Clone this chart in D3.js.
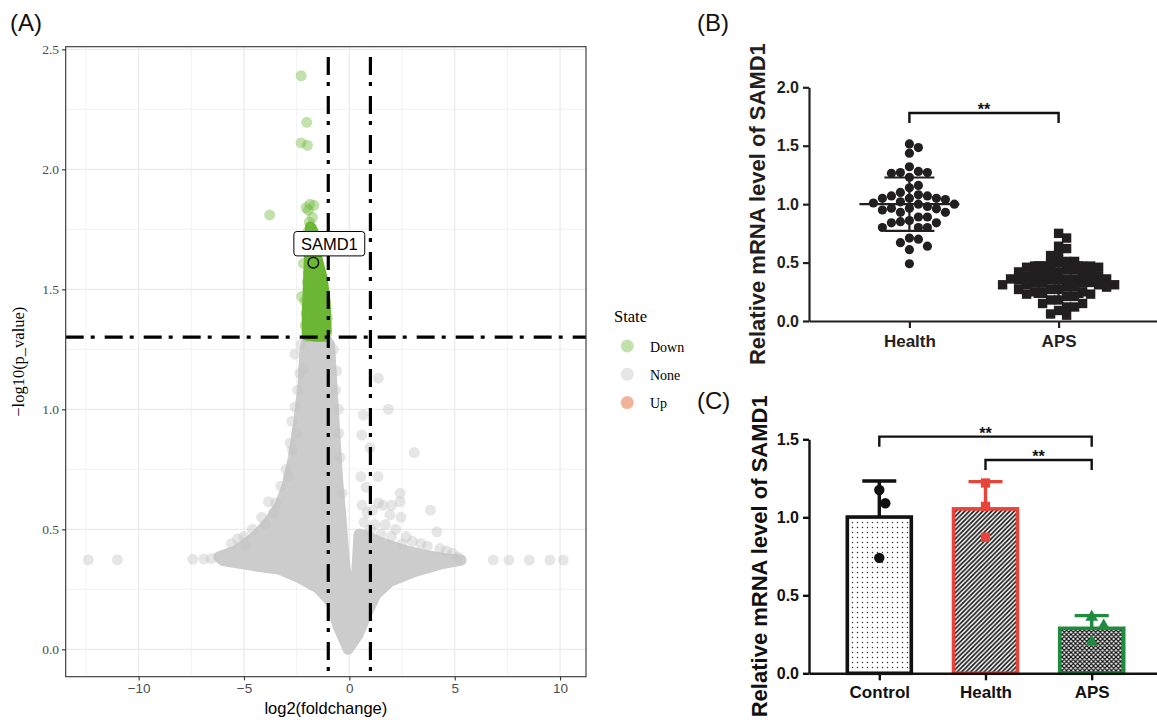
<!DOCTYPE html>
<html>
<head>
<meta charset="utf-8">
<script src="https://cdn.jsdelivr.net/npm/d3@7"></script>
<style>
  body { margin: 0; background: #fff; }
  svg { display: block; }
</style>
</head>
<body>
<svg id="fig" width="1157" height="720"></svg>
<script>
// ---- (A) volcano data ----
var xTicksA = [-10, -5, 0, 5, 10];
var yTicksA = [0, 0.5, 1, 1.5, 2, 2.5];
var xMinorA = [-12.5, -7.5, -2.5, 2.5, 7.5];
var yMinorA = [0.25, 0.75, 1.25, 1.75, 2.25];
var fcCutoffs = [-1, 1];
var pCutoff = 1.301;
var stateNames = ["Down", "None", "Up"];
var stateColors = ["#6DB83A", "#C4C4C4", "#E34A10"];

// outline of the dense mass of "None" genes (point centres)
var noneCloud = [
  [-2.01,1.285],[-1.5,1.295],[-1.1,1.29],[-0.94,1.27],
  [-0.86,1.15],[-0.76,1.0],[-0.66,0.85],[-0.55,0.70],[-0.40,0.55],[-0.25,0.38],
  [-0.05,0.22],[0.35,0.32],[0.46,0.48],
  [0.9,0.47],[1.46,0.445],[2.55,0.414],[3.5,0.393],[4.64,0.376],[5.3,0.372],
  [4.3,0.355],[3.03,0.322],[1.93,0.283],[1.27,0.23],[0.89,0.16],[0.41,0.06],[-0.06,0.0],
  [-0.2,0.03],[-0.54,0.097],[-0.87,0.197],[-1.49,0.256],[-2.34,0.297],[-3.29,0.333],
  [-4.24,0.345],[-5.2,0.358],[-6.0,0.37],
  [-6.2,0.385],[-5.4,0.41],[-4.6,0.46],[-3.9,0.52],[-3.3,0.6],[-2.95,0.68],
  [-2.65,0.8],[-2.4,0.95],[-2.2,1.1],[-2.1,1.25]
];
// "None" genes standing apart from the mass
var nonePoints = [
  [-12.39,0.373],[-11.01,0.373],[-7.43,0.375],[-6.9,0.376],[-6.55,0.378],
  [-5.6,0.44],[-5.3,0.46],[-4.9,0.43],[-4.6,0.50],[-4.16,0.55],[-4.0,0.52],
  [-3.84,0.615],[-3.5,0.61],[-3.25,0.68],[-3.0,0.75],[-2.81,0.86],[-2.73,0.95],
  [-2.58,1.01],[-2.45,1.08],[-2.35,1.15],[-2.58,1.23],[-2.18,1.17],[-2.3,1.27],
  [-2.9,0.72],[-2.7,0.83],[-3.6,0.57],[-5.0,0.47],[-2.5,0.9],
  [-0.75,1.25],[-0.6,1.16],[-0.52,1.0],[-0.44,0.80],[-0.35,0.65],[-0.65,1.08],[-0.5,0.9],
  [1.38,1.13],[1.85,1.0],[0.66,0.976],[0.59,0.893],[0.98,0.84],[3.08,0.82],
  [1.36,0.72],[0.8,0.675],[0.55,0.72],[2.41,0.65],[3.85,0.58],[2.41,0.615],
  [1.38,0.61],[1.6,0.60],[2.0,0.60],[1.93,0.56],[2.45,0.55],[1.1,0.58],
  [0.85,0.57],[0.7,0.53],[1.2,0.52],[1.7,0.52],[2.2,0.50],[2.7,0.47],
  [3.0,0.45],[3.4,0.44],[3.7,0.43],[4.15,0.49],[4.3,0.42],[4.6,0.41],
  [4.9,0.40],[5.15,0.385],[0.6,0.6],[1.0,0.5],[1.5,0.48],[2.0,0.47],[2.5,0.44],
  [6.83,0.372],[7.57,0.372],[8.54,0.372],[9.52,0.372],[10.15,0.372]
];
// outline of the dense column of "Down" genes (point centres)
var downCloud = [
  [-1.85,1.76],[-1.72,1.74],[-1.62,1.66],[-1.45,1.6],[-1.3,1.55],[-1.15,1.45],
  [-1.1,1.33],[-1.2,1.305],[-1.7,1.305],[-2.0,1.31],[-2.0,1.40],[-1.95,1.50],[-1.9,1.62]
];
var downPoints = [
  [-2.29,2.39],[-2.02,2.196],[-2.29,2.11],[-1.99,2.10],[-3.78,1.81],
  [-2.05,1.84],[-1.87,1.855],[-1.68,1.85],[-1.95,1.83],[-1.75,1.80],[-1.9,1.78],
  [-1.78,1.755],[-1.95,1.74],[-1.72,1.72],[-1.85,1.70],[-1.65,1.68],[-2.0,1.67],
  [-1.8,1.66],[-1.55,1.64],[-1.9,1.63],[-2.18,1.608],[-1.7,1.60],[-1.45,1.58],
  [-1.95,1.57],[-1.6,1.56],[-1.8,1.55],[-1.35,1.54],[-2.0,1.53],[-1.5,1.52],
  [-1.7,1.51],[-1.3,1.50],[-1.9,1.49],[-1.6,1.48],[-2.26,1.47],[-1.4,1.47],
  [-2.1,1.45],[-1.8,1.45],[-1.55,1.44],[-1.25,1.44],[-1.95,1.43],[-1.7,1.42],
  [-1.4,1.41],[-2.05,1.40],[-1.85,1.40],[-1.15,1.40],[-1.6,1.39],[-1.3,1.385],
  [-1.05,1.38],[-1.95,1.37],[-1.75,1.36],[-1.5,1.36],[-1.2,1.355],[-2.1,1.35],
  [-1.65,1.34],[-1.35,1.335],[-1.9,1.33],[-1.1,1.33],[-1.55,1.32],[-1.07,1.317],
  [-1.8,1.31],[-1.3,1.31],[-2.0,1.305],[-1.45,1.305]
];
var samd1 = { name: "SAMD1", fc: -1.71, p: 1.611 };

// ---- (B) column scatter data ----
var groupsB = ["Health", "APS"];
var yTicksB = [0, 0.5, 1, 1.5, 2];
var healthB = [1.515,1.484,1.436,1.32,1.28,1.27,1.27,1.23,1.264,1.16,1.14,1.10,1.07,1.08,1.07,
  1.05,1.05,1.05,1.04,1.01,1.0,1.02,1.0,0.98,0.96,0.965,0.965,0.95,0.93,0.93,0.89,0.89,
  0.85,0.84,0.84,0.86,0.80,0.80,0.80,0.71,0.70,0.67,0.61,0.64,0.49];
var apsB = [0.75,0.71,0.64,0.62,0.57,0.56,0.51,0.50,0.51,0.49,0.47,0.47,0.47,0.47,0.46,0.46,
  0.44,0.44,0.42,0.42,0.42,0.40,0.40,0.40,0.40,0.38,0.38,0.36,0.36,0.36,0.36,0.35,0.35,0.35,
  0.33,0.33,0.33,0.33,0.31,0.31,0.31,0.31,0.29,0.29,0.29,0.27,0.27,0.27,0.25,0.25,0.25,
  0.23,0.23,0.21,0.21,0.18,0.18,0.15,0.15,0.12,0.12,0.09,0.06,0.05];
var sigB = [["Health", "APS", 1.78, "**"]];

// ---- (C) bar data ----
var groupsC = ["Control", "Health", "APS"];
var yTicksC = [0, 0.5, 1, 1.5];
var valuesC = [[1.175, 1.09, 0.74], [0.872, 1.07, 1.22], [0.305, 0.2, 0.36]];
var colorsC = ["#111111", "#E8443A", "#1E8B3F"];
var sigC = [["Control", "APS", 1.517, "**"], ["Health", "APS", 1.367, "**"]];

var SANS = "'Liberation Sans', Arial, sans-serif";
var SERIF = "'Liberation Serif', 'Times New Roman', serif";
var INK = "#231f20";

var svg = d3.select("#fig");
var defs = svg.append("defs");

// places points of one column side by side so they do not overlap
function swarm(vals, yScale, cx, step, minDist, square) {
  var placed = [];
  vals.slice().sort(d3.descending).forEach(function(v) {
    var py = yScale(v), dx = 0;
    for (var k = 0; k < 80; k++) {
      dx = (k % 2 ? 1 : -1) * Math.ceil(k / 2) * step;
      var ok = placed.every(function(p) {
        var ddx = Math.abs(p.x - (cx + dx)), ddy = Math.abs(p.y - py);
        return square ? (ddx >= minDist || ddy >= minDist) : Math.hypot(ddx, ddy) >= minDist;
      });
      if (ok) break;
    }
    placed.push({ v: v, x: cx + dx, y: py });
  });
  return placed;
}

// ================= (A) =================
var xA = d3.scaleLinear().domain([-13.46, 11.23]).range([65.7, 586]);
var yA = d3.scaleLinear().domain([-0.114, 2.511]).range([676.7, 46.7]);
var x0 = xA.range()[0], x1 = xA.range()[1], y0 = yA.range()[0], y1 = yA.range()[1];

defs.append("clipPath").attr("id", "clipA").append("rect")
  .attr("x", x0).attr("y", y1).attr("width", x1 - x0).attr("height", y0 - y1);

var gA = svg.append("g");
var plotA = gA.append("g").attr("clip-path", "url(#clipA)");

// grid
plotA.selectAll(".minor-x").data(xMinorA).enter().append("line")
  .attr("x1", function(d) { return xA(d); }).attr("x2", function(d) { return xA(d); })
  .attr("y1", y1).attr("y2", y0).attr("stroke", "#EDEDED").attr("stroke-width", 0.7);
plotA.selectAll(".minor-y").data(yMinorA).enter().append("line")
  .attr("y1", function(d) { return yA(d); }).attr("y2", function(d) { return yA(d); })
  .attr("x1", x0).attr("x2", x1).attr("stroke", "#EDEDED").attr("stroke-width", 0.7);
plotA.selectAll(".major-x").data(xTicksA).enter().append("line")
  .attr("x1", function(d) { return xA(d); }).attr("x2", function(d) { return xA(d); })
  .attr("y1", y1).attr("y2", y0).attr("stroke", "#EBEBEB").attr("stroke-width", 1.3);
plotA.selectAll(".major-y").data(yTicksA).enter().append("line")
  .attr("y1", function(d) { return yA(d); }).attr("y2", function(d) { return yA(d); })
  .attr("x1", x0).attr("x2", x1).attr("stroke", "#EBEBEB").attr("stroke-width", 1.3);

var cloudLine = d3.line().x(function(d) { return xA(d[0]); }).y(function(d) { return yA(d[1]); })
  .curve(d3.curveLinearClosed);

// dense mass of None genes
plotA.append("path").datum(noneCloud).attr("d", cloudLine)
  .attr("fill", "#CCCCCC").attr("stroke", "#CCCCCC")
  .attr("stroke-width", 11).attr("stroke-linejoin", "round");

plotA.selectAll(".none-pt").data(nonePoints).enter().append("circle")
  .attr("cx", function(d) { return xA(d[0]); }).attr("cy", function(d) { return yA(d[1]); })
  .attr("r", 5.5).attr("fill", stateColors[1]).attr("fill-opacity", 0.42);

// dense column of Down genes
plotA.append("path").datum(downCloud).attr("d", cloudLine)
  .attr("fill", "#6AB72E").attr("stroke", "#6AB72E")
  .attr("stroke-width", 11).attr("stroke-linejoin", "round");

plotA.selectAll(".down-pt").data(downPoints).enter().append("circle")
  .attr("cx", function(d) { return xA(d[0]); }).attr("cy", function(d) { return yA(d[1]); })
  .attr("r", 5.5).attr("fill", stateColors[0]).attr("fill-opacity", 0.42);

// cut-off lines
plotA.selectAll(".vcut").data(fcCutoffs).enter().append("line")
  .attr("x1", function(d) { return xA(d); }).attr("x2", function(d) { return xA(d); })
  .attr("y1", y1).attr("y2", y0)
  .attr("stroke", "#000").attr("stroke-width", 3.2)
  .attr("stroke-dasharray", "18,7,4,10").attr("stroke-dashoffset", 28.7);
plotA.append("line")
  .attr("x1", x0).attr("x2", x1).attr("y1", yA(pCutoff)).attr("y2", yA(pCutoff))
  .attr("stroke", "#000").attr("stroke-width", 3.2)
  .attr("stroke-dasharray", "18,7,4,10").attr("stroke-dashoffset", 0);

// highlighted gene
var sx = xA(samd1.fc), sy = yA(samd1.p);
plotA.append("circle").attr("cx", sx).attr("cy", sy).attr("r", 5.3)
  .attr("fill", "none").attr("stroke", "#000").attr("stroke-width", 1.3);
var lab = gA.append("g").attr("transform", "translate(" + (sx + 16) + "," + (sy - 19) + ")");
var labText = lab.append("text").attr("text-anchor", "middle").attr("dy", "0.36em")
  .attr("font-family", SANS).attr("font-size", 16.5).attr("fill", "#000").text(samd1.name);
var bb = labText.node().getBBox();
lab.insert("rect", "text")
  .attr("x", bb.x - 7).attr("y", -12.2).attr("width", bb.width + 14).attr("height", 24.4)
  .attr("rx", 3).attr("fill", "#fff").attr("stroke", "#000").attr("stroke-width", 1);

// frame
gA.append("rect").attr("x", x0).attr("y", y1).attr("width", x1 - x0).attr("height", y0 - y1)
  .attr("fill", "none").attr("stroke", "#333").attr("stroke-width", 1.1);

// axes
var axXA = gA.append("g").attr("transform", "translate(0," + y0 + ")")
  .call(d3.axisBottom(xA).tickValues(xTicksA).tickSize(3.7).tickPadding(3).tickFormat(d3.format("d")));
var axYA = gA.append("g").attr("transform", "translate(" + x0 + ",0)")
  .call(d3.axisLeft(yA).tickValues(yTicksA).tickSize(3.7).tickPadding(3).tickFormat(d3.format(".1f")));
[axXA, axYA].forEach(function(ax) {
  ax.select(".domain").remove();
  ax.selectAll(".tick line").attr("stroke", "#333").attr("stroke-width", 1.1);
});
axXA.selectAll("text").attr("font-family", SANS).attr("font-size", 13.5).attr("fill", "#4D4D4D");
axYA.selectAll("text").attr("font-family", SERIF).attr("font-size", 13.5).attr("fill", "#4D4D4D");

gA.append("text").attr("x", (x0 + x1) / 2).attr("y", 714).attr("text-anchor", "middle")
  .attr("font-family", SANS).attr("font-size", 16.5).text("log2(foldchange)");
gA.append("text").attr("transform", "translate(24," + ((y0 + y1) / 2) + ") rotate(-90)")
  .attr("text-anchor", "middle").attr("font-family", SERIF).attr("font-size", 16.5)
  .text("\u2212log10(p_value)");

// legend
var leg = gA.append("g").attr("transform", "translate(614,322)");
leg.append("text").attr("font-family", SERIF).attr("font-size", 16.5).text("State");
var items = leg.selectAll(".item").data(stateNames).enter().append("g")
  .attr("transform", function(d, i) { return "translate(0," + (24 + i * 28.3) + ")"; });
items.append("circle").attr("cx", 13.3).attr("r", 6.5)
  .attr("fill", function(d, i) { return stateColors[i]; }).attr("fill-opacity", 0.42);
items.append("text").attr("x", 36).attr("y", 5.5).attr("font-family", SERIF).attr("font-size", 14)
  .text(function(d) { return d; });

// ================= (B) =================
var xB = d3.scalePoint().domain(groupsB).range([809, 1159]).padding(0.673);
var yB = d3.scaleLinear().domain([0, 2]).range([321, 87.3]);
var gB = svg.append("g");

var axYB = gB.append("g").attr("transform", "translate(809,0)")
  .call(d3.axisLeft(yB).tickValues(yTicksB).tickSize(6).tickSizeOuter(0).tickPadding(4)
    .tickFormat(d3.format(".1f")));
var axXB = gB.append("g").attr("transform", "translate(0,321)")
  .call(d3.axisBottom(xB).tickSize(7).tickSizeOuter(0).tickPadding(7));
[axYB, axXB].forEach(function(ax) {
  ax.select(".domain").attr("stroke", INK).attr("stroke-width", 2.2);
  ax.selectAll(".tick line").attr("stroke", INK).attr("stroke-width", 2.2);
  ax.selectAll("text").attr("font-family", SANS).attr("font-weight", "bold").attr("fill", INK);
});
axYB.selectAll("text").attr("font-size", 16);
axXB.selectAll("text").attr("font-size", 17);

gB.append("text").attr("transform", "translate(765," + ((yB(0) + yB(2)) / 2) + ") rotate(-90)")
  .attr("text-anchor", "middle").attr("font-family", SANS).attr("font-weight", "bold")
  .attr("font-size", 22).attr("fill", INK).text("Relative mRNA level of SAMD1");

// points
var hPts = swarm(healthB, yB, xB("Health"), 9, 9, false);
gB.selectAll(".h-pt").data(hPts).enter().append("circle")
  .attr("cx", function(d) { return d.x; }).attr("cy", function(d) { return d.y; })
  .attr("r", 4.6).attr("fill", INK);
var aPts = swarm(apsB, yB, xB("APS"), 8, 7.2, true);
gB.selectAll(".a-pt").data(aPts).enter().append("rect")
  .attr("x", function(d) { return d.x - 4.7; }).attr("y", function(d) { return d.y - 4.7; })
  .attr("width", 9.4).attr("height", 9.4).attr("fill", INK);

// mean and SD lines
[["Health", healthB], ["APS", apsB]].forEach(function(g) {
  var cx = xB(g[0]), m = d3.mean(g[1]), s = d3.deviation(g[1]);
  var path = "M" + (cx - 50) + "," + yB(m) + "H" + (cx + 50) +
    "M" + (cx - 25) + "," + yB(m + s) + "H" + (cx + 25) +
    "M" + (cx - 25) + "," + yB(m - s) + "H" + (cx + 25) +
    "M" + cx + "," + yB(m + s) + "V" + yB(m - s);
  gB.append("path").attr("d", path).attr("stroke", INK).attr("stroke-width", 2.2).attr("fill", "none");
});

function brackets(g, list, xs, ys) {
  list.forEach(function(b) {
    var xa = xs(b[0]), xb = xs(b[1]), yy = ys(b[2]);
    g.append("path").attr("d", "M" + xa + "," + (yy + 10) + "V" + yy + "H" + xb + "V" + (yy + 10))
      .attr("fill", "none").attr("stroke", "#111").attr("stroke-width", 2.4);
    g.append("text").attr("x", (xa + xb) / 2).attr("y", yy + 2).attr("text-anchor", "middle")
      .attr("font-family", SANS).attr("font-weight", "bold").attr("font-size", 16)
      .attr("fill", "#111").text(b[3]);
  });
}
brackets(gB, sigB, xB, yB);

// ================= (C) =================
var xC = d3.scalePoint().domain(groupsC).range([809, 1162]).padding(0.662);
var yC = d3.scaleLinear().domain([0, 1.5]).range([673.3, 439.3]);
var gC = svg.append("g");

// fill patterns of the three bars
var pDot = defs.append("pattern").attr("id", "patDots").attr("patternUnits", "userSpaceOnUse")
  .attr("width", 5).attr("height", 5);
pDot.append("rect").attr("width", 5).attr("height", 5).attr("fill", "#fff");
pDot.append("circle").attr("cx", 2.5).attr("cy", 2.5).attr("r", 0.75).attr("fill", "#333");

var pHatch = defs.append("pattern").attr("id", "patHatch").attr("patternUnits", "userSpaceOnUse")
  .attr("width", 4.5).attr("height", 4.5);
pHatch.append("rect").attr("width", 4.5).attr("height", 4.5).attr("fill", "#fff");
pHatch.append("path").attr("d", "M-1,1L1,-1M0,4.5L4.5,0M3.5,5.5L5.5,3.5")
  .attr("stroke", "#111").attr("stroke-width", 1.6);

var pCross = defs.append("pattern").attr("id", "patCross").attr("patternUnits", "userSpaceOnUse")
  .attr("width", 4.5).attr("height", 4.5);
pCross.append("rect").attr("width", 4.5).attr("height", 4.5).attr("fill", "#fff");
pCross.append("path").attr("d", "M-1,1L1,-1M0,4.5L4.5,0M3.5,5.5L5.5,3.5M-1,3.5L1,5.5M0,0L4.5,4.5M3.5,-1L5.5,1")
  .attr("stroke", "#111").attr("stroke-width", 1.2);
var patIds = ["patDots", "patHatch", "patCross"];

var barW = 64;
groupsC.forEach(function(name, i) {
  var cx = xC(name), vals = valuesC[i], m = d3.mean(vals), s = d3.deviation(vals), col = colorsC[i];
  gC.append("path")
    .attr("d", "M" + cx + "," + yC(m) + "V" + yC(m + s) + "M" + (cx - 17) + "," + yC(m + s) + "H" + (cx + 17))
    .attr("stroke", col).attr("stroke-width", 3.4).attr("fill", "none");
  gC.append("rect").attr("x", cx - barW / 2).attr("y", yC(m))
    .attr("width", barW).attr("height", yC(0) - yC(m))
    .attr("fill", "url(#" + patIds[i] + ")").attr("stroke", col).attr("stroke-width", 3.6);
  var pts = swarm(vals, yC, cx, 6, 14, false);
  var sym = [d3.symbolCircle, d3.symbolSquare, d3.symbolTriangle][i];
  gC.selectAll(".pt" + i).data(pts).enter().append("path")
    .attr("transform", function(d) { return "translate(" + d.x + "," + d.y + ")"; })
    .attr("d", d3.symbol().type(sym).size(i === 2 ? 70 : 85)).attr("fill", col);
});

var axYC = gC.append("g").attr("transform", "translate(809,0)")
  .call(d3.axisLeft(yC).tickValues(yTicksC).tickSize(6).tickSizeOuter(0).tickPadding(4)
    .tickFormat(d3.format(".1f")));
var axXC = gC.append("g").attr("transform", "translate(0,673.3)")
  .call(d3.axisBottom(xC).tickSize(7).tickSizeOuter(0).tickPadding(6));
[axYC, axXC].forEach(function(ax) {
  ax.select(".domain").attr("stroke", "#111").attr("stroke-width", 2.4);
  ax.selectAll(".tick line").attr("stroke", "#111").attr("stroke-width", 2.4);
  ax.selectAll("text").attr("font-family", SANS).attr("font-weight", "bold").attr("fill", "#111");
});
axYC.selectAll("text").attr("font-size", 16);
axXC.selectAll("text").attr("font-size", 17);

gC.append("text").attr("transform", "translate(766.5," + ((yC(0) + yC(1.5)) / 2) + ") rotate(-90)")
  .attr("text-anchor", "middle").attr("font-family", SANS).attr("font-weight", "bold")
  .attr("font-size", 22).attr("fill", "#111").text("Relative mRNA level of SAMD1");

brackets(gC, sigC, xC, yC);

// panel letters
svg.selectAll(".panel-tag").data([["(A)", 10, 31], ["(B)", 697, 31], ["(C)", 697, 409]])
  .enter().append("text")
  .attr("x", function(d) { return d[1]; }).attr("y", function(d) { return d[2]; })
  .attr("font-family", SANS).attr("font-size", 24).attr("fill", "#111")
  .text(function(d) { return d[0]; });
</script>
</body>
</html>
